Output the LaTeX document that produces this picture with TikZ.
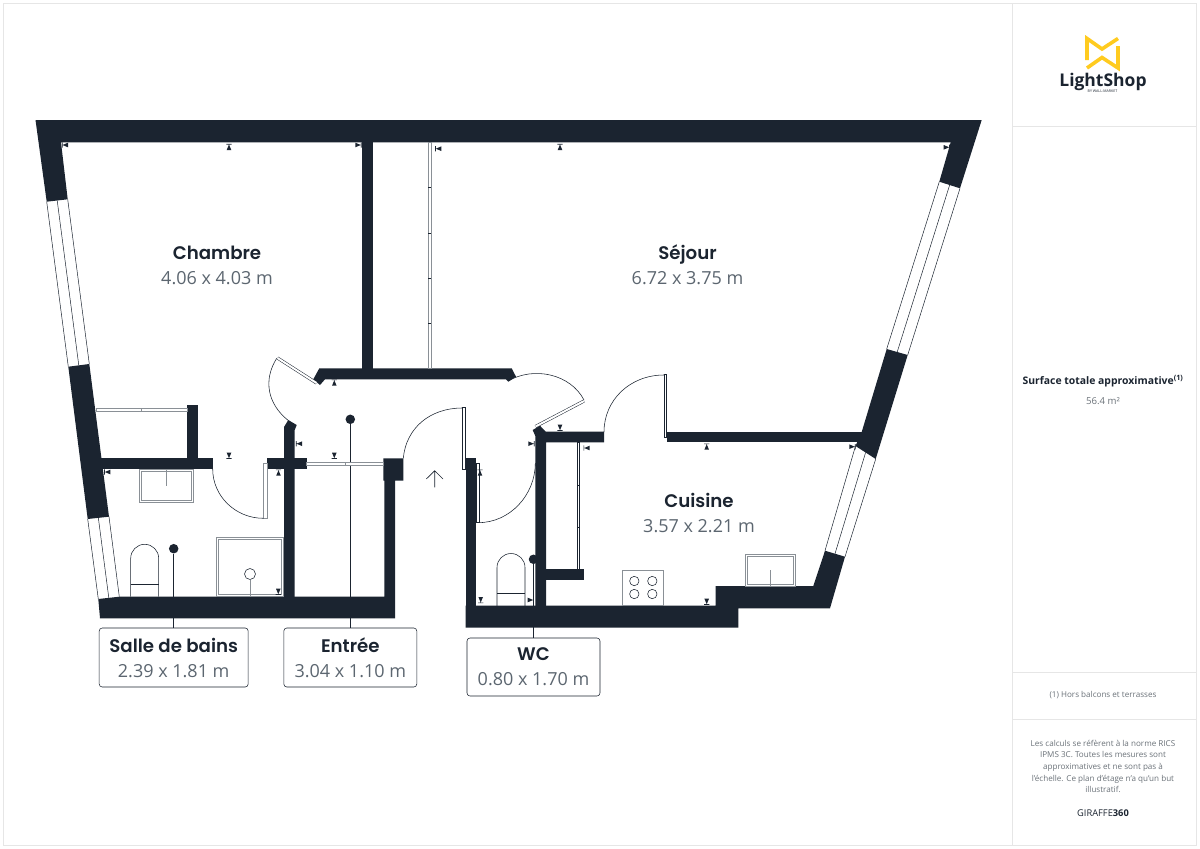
\documentclass[tikz,border=0pt]{standalone}
\usepackage{fontspec}
\setmainfont{Open Sans}
\newfontfamily\namefont[UprightFont={* SemiBold}]{Poppins}
\usetikzlibrary{calc,arrows.meta}
\definecolor{wallcol}{HTML}{1B2430}
\definecolor{sizecol}{HTML}{5C6670}
\definecolor{notecol}{HTML}{6B7279}
\definecolor{framecol}{HTML}{E6E6E6}
\definecolor{fixcol}{HTML}{8A9096}
\definecolor{logocol}{HTML}{FFCB1F}
\newcommand{\roomname}[1]{{\namefont\fontsize{18.2}{25}\selectfont\color{wallcol}#1}}
\newcommand{\roomsize}[1]{{\color{sizecol}#1}}
\newcommand{\glazing}[4]{\draw[winline] #1 -- #3 ($#1!.5!#2$) -- ($#3!.5!#4$) #2 -- #4;}
\tikzset{
    wall/.style={fill=wallcol,draw=none},
    winline/.style={draw=wallcol,line width=.5pt},
    doorarc/.style={draw=wallcol,line width=.55pt},
    doorleaf/.style={draw=wallcol,line width=.5pt,double=white,double distance=2pt},
    leafbox/.style={draw=wallcol,line width=.5pt,fill=white},
    slidebox/.style={draw=fixcol,line width=.7pt,fill=white},
    fixture/.style={draw=wallcol,line width=.55pt},
    fixtureb/.style={draw=fixcol,line width=.6pt},
    leader/.style={draw=wallcol,line width=.55pt},
    roomlabel/.style={align=center,inner sep=0pt,font=\fontsize{18}{25}\selectfont},
    roombox/.style={draw=wallcol,line width=.55pt,rounded corners=3pt,fill=white,align=center,inner sep=0pt,font=\fontsize{18}{25}\selectfont},
    dotnode/.style={circle,fill=wallcol,inner sep=0pt,minimum size=9.5pt},
    sidetext/.style={align=center,inner sep=0pt,text=notecol,font=\fontsize{8.1}{11.7}\selectfont},
}
\begin{document}
\begin{tikzpicture}[x=1pt,y=-1pt]
\useasboundingbox (0,0) rectangle (1200,849);
\fill[white] (0,0) rectangle (1200,849);

% frame and side panel
\draw[framecol,line width=1pt] (3.5,3.5) rectangle (1196,845);
\draw[framecol,line width=1pt] (1012,3.5) -- (1012,845);
\foreach \ly in {126,672.5,719.5}
    \draw[framecol,line width=1pt] (1012,\ly) -- (1196,\ly);

% logo
\draw[logocol,line width=3.6pt,miter limit=10] (1118,38.5) -- (1102,49) -- (1087,38.5) -- (1087,60);
\draw[logocol,line width=3.6pt,miter limit=10] (1087,68) -- (1102,57.5) -- (1118,68) -- (1118,46);
\node[inner sep=0pt,text=wallcol] (logotext) at (1103,82) {\fontsize{17.5}{18}\selectfont\bfseries LightShop};
\node[inner sep=0pt,text=wallcol] (logosub) at (1102.5,91.5) {\fontsize{3.6}{4}\selectfont BY WALL-MARKET};

% leaders
\node[dotnode] (dotbain) at (173.7,548.7) {};
\node[dotnode] (dotentree) at (350.3,419.3) {};
\node[dotnode] (dotwc) at (533.5,559.3) {};
\node[roombox,minimum width=149pt,minimum height=59pt] (boxbain) at (173.7,657.5)
    {\roomname{Salle de bains}\\\roomsize{2.39 x 1.81 m}};
\node[roombox,minimum width=133pt,minimum height=59pt] (boxentree) at (350.3,657.5)
    {\roomname{Entrée}\\\roomsize{3.04 x 1.10 m}};
\node[roombox,minimum width=133pt,minimum height=58pt] (boxwc) at (533.5,667)
    {\roomname{WC}\\\roomsize{0.80 x 1.70 m}};
\draw[leader] (dotbain) -- (boxbain);
\draw[leader] (dotentree) -- (boxentree);
\draw[leader] (dotwc) -- (boxwc);

% walls
\fill[wall] (35.5,120) -- (981.7,120) -- (960,188.3) -- (939.3,181.7) -- (950.7,142.3) -- (61,142.3) -- (67.7,199.3) -- (46.7,201.7) -- cycle;
\fill[wall] (68.3,366.7) -- (89.3,364) -- (109,516.7) -- (87.7,519) -- cycle;
\fill[wall] (98.3,599) -- (119.3,596.7) -- (384.3,596.7) -- (384.3,480.7) -- (383.3,480.7) -- (383.3,458.3) -- (403.3,458.3) -- (403.3,480.7) -- (395,480.7) -- (395,618.3) -- (100,618.3) -- cycle;
\fill[wall] (100,458.3) rectangle (212.7,469.3);
\fill[wall] (187.3,405) rectangle (198.3,458.5);
\fill[wall] (267.3,458.3) rectangle (306.7,469.3);
\fill[wall] (284,597) -- (284,427) -- (288.3,420) -- (296.7,425) -- (294.7,430) -- (294.7,597) -- cycle;
\fill[wall] (319.3,368.3) -- (511.7,368.3) -- (516,376.7) -- (508.3,381.7) -- (506,379.3) -- (325,379.3) -- (320,385) -- (313.3,379.3) -- cycle;
\fill[wall] (362,142) rectangle (372.7,368.5);
\fill[wall] (532.7,430) -- (540,425.7) -- (545.7,431.7) -- (604,431.7) -- (604,442.3) -- (546,442.3) -- (546,606) -- (535.3,606) -- (535.3,436) -- cycle;
\fill[wall] (546,569) rectangle (583.7,580);
\fill[wall] (666.7,431.7) rectangle (865,442.3);
\fill[wall] (886.7,349) -- (907.7,355) -- (875.7,459) -- (855.5,446) -- (861.7,432) -- cycle;
\fill[wall] (825,550.7) -- (845,556.7) -- (830,608.3) -- (738.3,608.3) -- (738.3,627.7) -- (465.7,627.7) -- (465.7,605.7) -- (715.7,605.7) -- (715.7,586) -- (813.3,586) -- cycle;
\fill[wall] (465.7,458.3) rectangle (476.3,606);

% windows
\glazing{(46.7,201.7)}{(67.7,199.3)}{(68.3,366.7)}{(89.3,364)}
\glazing{(87.7,519)}{(109,516.7)}{(98.3,599)}{(119.3,596.7)}
\glazing{(960,188.3)}{(939.3,181.7)}{(907.7,355)}{(886.7,349)}
\glazing{(875.7,459)}{(855.5,446)}{(845,556.7)}{(825,550.7)}

% doors
\draw[doorleaf] (316.5,383) -- (277.5,358);
\draw[doorarc] (276.7,358.3) .. controls (263,380) and (267.5,404) .. (288.3,420.5);
\draw[doorleaf] (584,401) -- (535.5,426.5);
\draw[doorarc] (508,381) .. controls (534,366) and (570.5,374) .. (584,400);
\draw[leafbox] (462.3,407.3) rectangle (465.3,469.3);
\draw[doorarc] (403.3,458.3) .. controls (406,428) and (430,408) .. (462.3,408);
\draw[leafbox] (664,374.3) rectangle (666.7,437);
\draw[doorarc] (664,375) .. controls (630,375) and (604,400) .. (604,432);
\draw[leafbox] (476.7,463.3) rectangle (479.7,522.7);
\draw[doorarc] (478,522.7) .. controls (510,522.7) and (535.3,495) .. (535.3,463);
\draw[slidebox] (263.3,463.3) rectangle (267,518.3);
\draw[doorarc] (212.7,469) .. controls (212.7,496.2) and (235.5,518.3) .. (263.5,518.3);

% sliding panels
\draw[slidebox] (96.7,408.5) rectangle (187.3,411.5);
\draw[slidebox] (306.7,462) rectangle (383.5,465);
\draw[slidebox] (428.3,142.3) rectangle (431.3,368.3);
\draw[leafbox] (577,442.3) rectangle (579.5,569);
\foreach \ty in {187,233,278,323}
    \draw[wallcol,line width=.6pt] (428,\ty) -- (431,\ty);
\foreach \ty in {485,527.7}
    \draw[wallcol,line width=.6pt] (577,\ty) -- (579.5,\ty);
\draw[fixtureb] (141.7,408.5) -- (141.7,411.5);
\draw[fixtureb] (345,462) -- (345,465);

% bathroom
\draw[fixtureb] (139.3,469.3) rectangle (193.3,502.3);
\draw[fixtureb] (141.3,471.5) rectangle (191.3,500.3);
\draw[fixtureb] (166.3,469.3) -- (166.3,486);
\draw[fixture] (130.7,596.7) -- (130.7,558.3) arc[start angle=180,end angle=360,x radius=14,y radius=14] -- (158.7,596.7);
\draw[fixture] (130.7,584.3) -- (158.7,584.3);
\draw[fixtureb] (216.7,537.3) rectangle (283.7,596.7);
\draw[fixtureb] (218.7,539.3) rectangle (281.7,594.7);
\node[circle,fixture,inner sep=0pt,minimum size=11pt] (drain) at (250,574) {};
\coordinate (drainend) at (250,596.7);
\draw[fixtureb] (drain) -- (drainend);

% wc and kitchen
\draw[fixture] (497,606) -- (497,567.5) arc[start angle=180,end angle=360,x radius=14,y radius=14] -- (525,606);
\draw[fixture] (497,593.5) -- (525,593.5);
\draw[fixtureb] (622.7,570) rectangle (663.7,605.7);
\foreach \cx/\cy in {634.3/581,652.3/581,634.3/594,652.3/594}
    \draw[fixture] (\cx,\cy) circle[radius=4.7];
\draw[fixtureb] (745,554.3) rectangle (795,586);
\draw[fixtureb] (747,556.5) rectangle (793,584);
\draw[fixtureb] (770,570) -- (770,586);

% north arrow
\coordinate (northtip) at (434.7,470.7);
\coordinate (northend) at (434.7,487.3);
\draw[fixture,line width=.6pt] (northend) -- (northtip) (426.3,479) -- (northtip) -- (443,479);

% height marks
\foreach \mx/\my/\ma in {65/145/180,229/147/90,358.3/145/0,438.3/148.7/180,560/147/90,946.7/147.3/0,
    229/455.7/270,334.3/455.7/270,334.3/382.7/90,299/443.7/180,107.3/472/180,278.5/472.7/90,
    278.3/591.7/270,480.7/600/270,530.7/600/0,480/472.7/90,531.3/443.7/0,560/427.7/270,
    586.7/448/180,706.7/446.7/90,706.7/601.7/270,852.3/446.7/0}
    \fill[wallcol,shift={(\mx,\my)},rotate=\ma] (-3,-2.3) -- (2.5,0) -- (-3,2.3) -- cycle (2.5,-2.6) rectangle (3.2,2.6);

% room names
\node[roomlabel] (chambre) at (217,265.5) {\roomname{Chambre}\\\roomsize{4.06 x 4.03 m}};
\node[roomlabel] (sejour) at (687.5,264.5) {\roomname{Séjour}\\\roomsize{6.72 x 3.75 m}};
\node[roomlabel] (cuisine) at (699,512.5) {\roomname{Cuisine}\\\roomsize{3.57 x 2.21 m}};

% side notes
\node[sidetext,text=wallcol] (surface) at (1103,381) {\fontsize{10.4}{11}\selectfont\bfseries Surface totale approximative\textsuperscript{(1)}};
\node[sidetext] (surfaceval) at (1103,401) {\fontsize{9.6}{10}\selectfont 56.4 m²};
\node[sidetext] (hors) at (1103,695) {(1) Hors balcons et terrasses};
\node[sidetext] (norme) at (1103,766.5) {Les calculs se réfèrent à la norme RICS\\IPMS 3C. Toutes les mesures sont\\approximatives et ne sont pas à\\l'échelle. Ce plan d'étage n'a qu'un but\\illustratif.};
\node[sidetext,text=wallcol] (giraffe) at (1103,813.5) {\fontsize{9.3}{10}\selectfont GIRAFFE\textbf{360}};
\end{tikzpicture}
\end{document}
